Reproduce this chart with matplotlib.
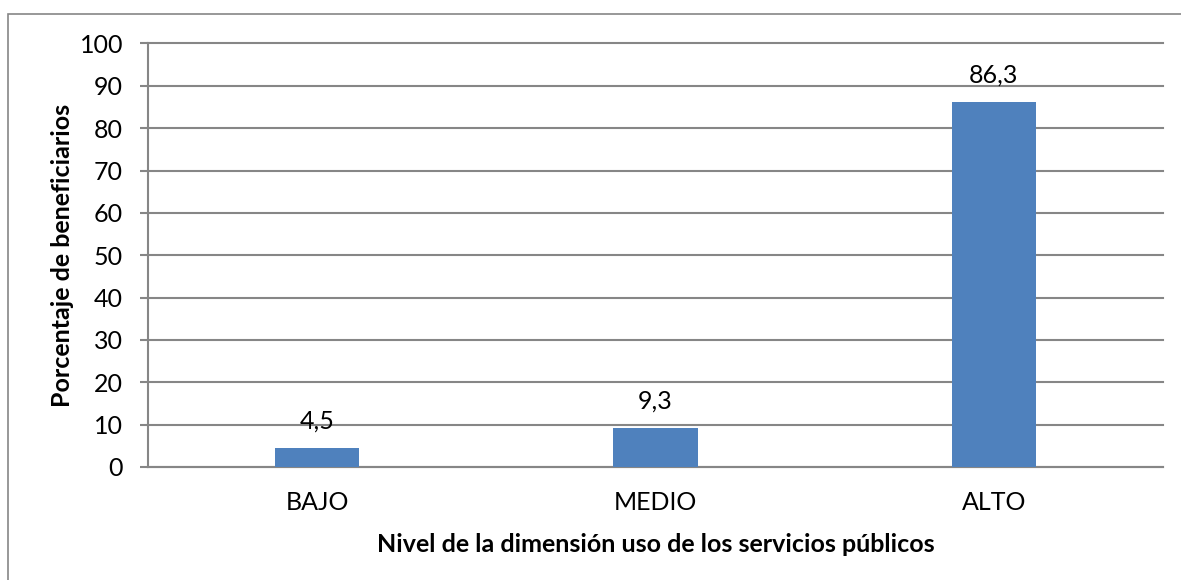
import matplotlib
matplotlib.use('Agg')
import matplotlib.pyplot as plt
from matplotlib.patches import Rectangle

# --- data ---
categories = ['BAJO', 'MEDIO', 'ALTO']
percentages = [4.5, 9.3, 86.3]
y_ticks = [0, 10, 20, 30, 40, 50, 60, 70, 80, 90, 100]

x_title = 'Nivel de la dimensión uso de los servicios públicos'
y_title = 'Porcentaje de beneficiarios'

BAR_COLOR = '#4F81BD'
GRID_COLOR = '#868686'
FS = 18

plt.rcParams['font.family'] = ['Lato', 'DejaVu Sans']

fig = plt.figure(figsize=(11.81, 5.80), dpi=100)
ax = fig.add_axes([148 / 1181, 1 - 467 / 580, (1163 - 148) / 1181, (467 - 43.5) / 580])

# outer chart border (cut off at the right and bottom in the reference)
fig.patches.append(Rectangle((8 / 1181, -0.1), 1.2, 1 - 14 / 580 + 0.1,
                             transform=fig.transFigure, fill=False,
                             edgecolor=GRID_COLOR, linewidth=1.2))

x = range(len(categories))
bars = ax.bar(x, percentages, width=0.25, color=BAR_COLOR, zorder=3)

for xi, v in zip(x, percentages):
    ax.annotate(f'{v:.1f}'.replace('.', ','), (xi, v), xytext=(0, 11),
                textcoords='offset points', ha='center', va='bottom',
                fontsize=FS, zorder=4)

ax.set_xlim(-0.5, len(categories) - 0.5)
ax.set_ylim(0, 100)
ax.set_yticks(y_ticks)
ax.set_xticks(list(x))
ax.set_xticklabels(categories)

ax.yaxis.grid(True, color=GRID_COLOR, linewidth=1.5, zorder=0)
ax.set_axisbelow(True)
for gl in ax.yaxis.get_gridlines():
    gl.set_clip_on(False)

for s in ['top', 'right']:
    ax.spines[s].set_visible(False)
for s in ['left', 'bottom']:
    ax.spines[s].set_color(GRID_COLOR)
    ax.spines[s].set_linewidth(1.5)

ax.tick_params(axis='y', length=6, width=1.5, color=GRID_COLOR, pad=12, labelsize=FS)
ax.tick_params(axis='x', length=0, pad=17, labelsize=FS)

ax.set_xlabel(x_title, fontsize=FS, fontweight='bold')
ax.set_ylabel(y_title, fontsize=FS, fontweight='bold')
ax.xaxis.set_label_coords(0.5, -(545 - 467) / 423.5)
ax.xaxis.label.set_va('center')
ax.yaxis.set_label_coords(-(148 - 63) / 1015, 0.5)
ax.yaxis.label.set_va('center')

fig.savefig('out.png', dpi=100)
